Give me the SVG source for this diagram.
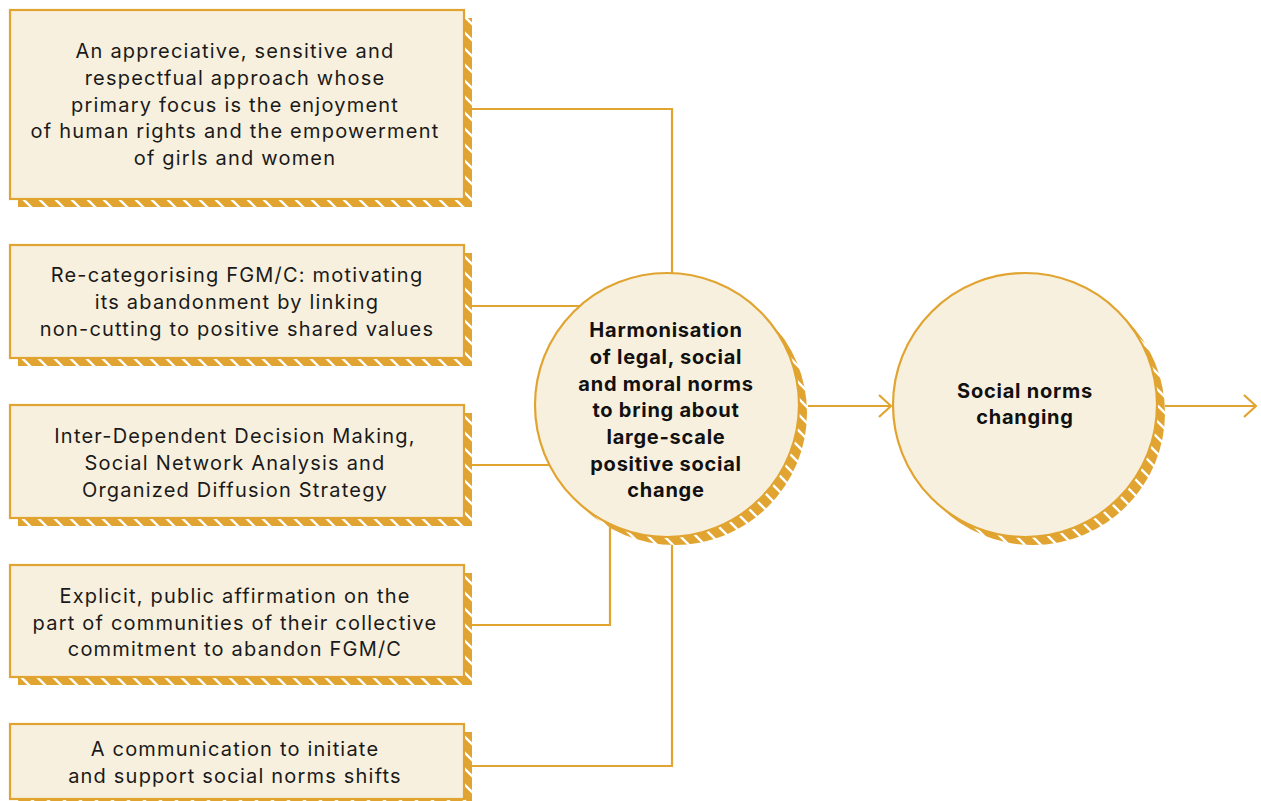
<svg xmlns="http://www.w3.org/2000/svg" width="1261" height="801" viewBox="0 0 1261 801">
<defs>
<pattern id="hatch" patternUnits="userSpaceOnUse" width="16" height="16">
<rect width="16" height="16" fill="#E1A431"/>
<path d="M-4,-4 L20,20 M-4,12 L4,20 M12,-4 L20,4" stroke="#ffffff" stroke-width="2.4"/>
</pattern>
<marker id="arrow" viewBox="0 0 14 24" refX="13" refY="12" markerWidth="14" markerHeight="24" markerUnits="userSpaceOnUse" orient="auto">
<path d="M1,1 L13,12 L1,23" fill="none" stroke="#E1A431" stroke-width="2.2"/>
</marker>
</defs>
<style>
.box{fill:#F8F0DE;stroke:#E1A431;stroke-width:2.2}
.shadow{fill:url(#hatch)}
.con{fill:none;stroke:#E1A431;stroke-width:2.2}
.t{font-family:Inter,"Liberation Sans",sans-serif;font-size:20px;fill:#1a1a1a;text-anchor:middle;letter-spacing:1.2px}
.b{font-family:Inter,"Liberation Sans",sans-serif;font-size:20px;font-weight:bold;fill:#111;text-anchor:middle;letter-spacing:0.75px}
</style>
<rect width="1261" height="801" fill="#ffffff"/>
<g id="connectors">
<path class="con" d="M472,109 H672 V300"/>
<path class="con" d="M472,306 H600"/>
<path class="con" d="M472,465 H580"/>
<path class="con" d="M472,625 H610 V500"/>
<path class="con" d="M472,766 H672 V520"/>
<path class="con" d="M808,406 H891" marker-end="url(#arrow)"/>
<path class="con" d="M1165,406 H1256" marker-end="url(#arrow)"/>
</g>
<g id="box1">
<rect class="shadow" x="18" y="18" width="454" height="189"/>
<rect class="box" x="10" y="10" width="454" height="189"/>
<text class="t"><tspan x="235" y="58">An appreciative, sensitive and</tspan><tspan x="235" y="85">respectfual approach whose</tspan><tspan x="235" y="112">primary focus is the enjoyment</tspan><tspan x="235" y="138">of human rights and the empowerment</tspan><tspan x="235" y="165">of girls and women</tspan></text>
</g>
<g id="box2">
<rect class="shadow" x="18" y="253" width="454" height="113"/>
<rect class="box" x="10" y="245" width="454" height="113"/>
<text class="t"><tspan x="237" y="282">Re-categorising FGM/C: motivating</tspan><tspan x="237" y="309">its abandonment by linking</tspan><tspan x="237" y="336">non-cutting to positive shared values</tspan></text>
</g>
<g id="box3">
<rect class="shadow" x="18" y="413" width="454" height="113"/>
<rect class="box" x="10" y="405" width="454" height="113"/>
<text class="t"><tspan x="235" y="443">Inter-Dependent Decision Making,</tspan><tspan x="235" y="470">Social Network Analysis and</tspan><tspan x="235" y="497">Organized Diffusion Strategy</tspan></text>
</g>
<g id="box4">
<rect class="shadow" x="18" y="573" width="454" height="112"/>
<rect class="box" x="10" y="565" width="454" height="112"/>
<text class="t"><tspan x="235" y="603">Explicit, public affirmation on the</tspan><tspan x="235" y="630">part of communities of their collective</tspan><tspan x="235" y="656">commitment to abandon FGM/C</tspan></text>
</g>
<g id="box5">
<rect class="shadow" x="18" y="732" width="454" height="75"/>
<rect class="box" x="10" y="724" width="454" height="75"/>
<text class="t"><tspan x="235" y="756">A communication to initiate</tspan><tspan x="235" y="783">and support social norms shifts</tspan></text>
</g>
<g id="circle1">
<circle class="shadow" cx="675" cy="413" r="132"/>
<circle class="box" cx="667" cy="405" r="132" stroke-width="2.6"/>
<text class="b"><tspan x="666" y="337">Harmonisation</tspan><tspan x="666" y="364">of legal, social</tspan><tspan x="666" y="391">and moral norms</tspan><tspan x="666" y="417">to bring about</tspan><tspan x="666" y="444">large-scale</tspan><tspan x="666" y="471">positive social</tspan><tspan x="666" y="497">change</tspan></text>
</g>
<g id="circle2">
<circle class="shadow" cx="1033" cy="413" r="132"/>
<circle class="box" cx="1025" cy="405" r="132" stroke-width="2.6"/>
<text class="b"><tspan x="1025" y="398">Social norms</tspan><tspan x="1025" y="424">changing</tspan></text>
</g>
</svg>
